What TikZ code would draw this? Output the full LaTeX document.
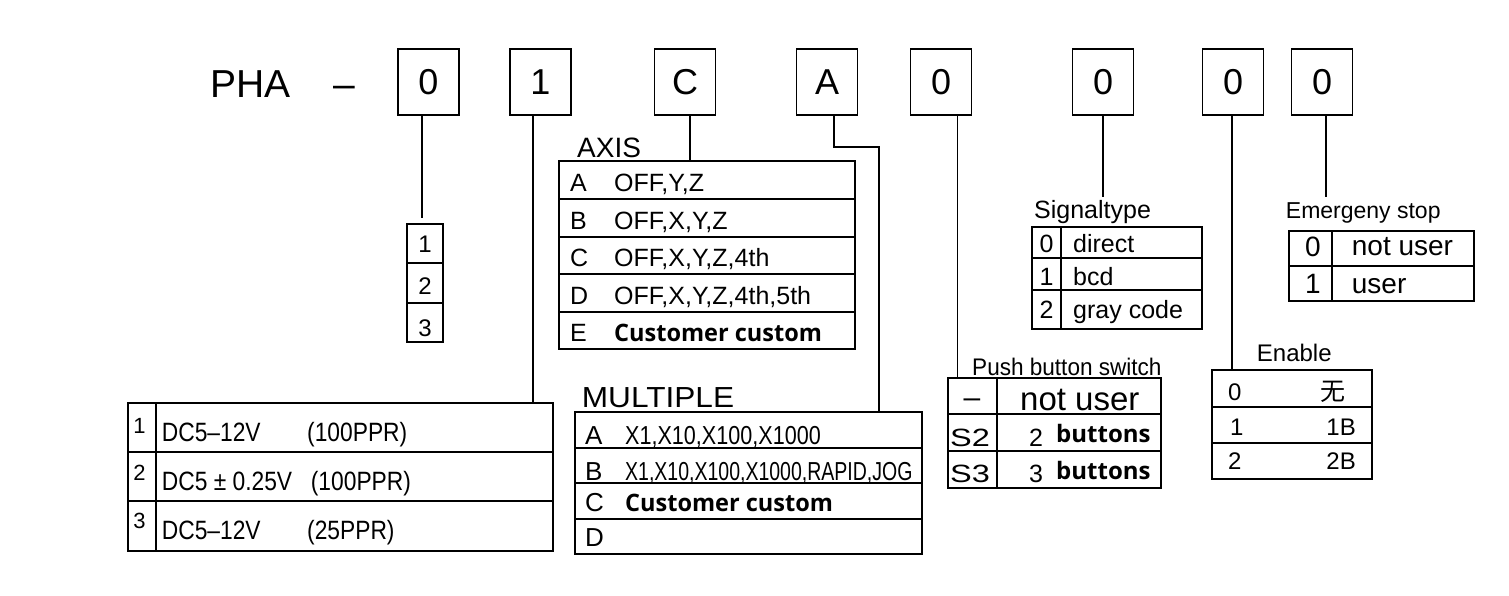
\documentclass[tikz,border=0pt]{standalone}
\usepackage{graphicx}
\usepackage{fontspec}
\setmainfont{Liberation Sans}
\newfontfamily\custbold{Open Sans}
\newfontfamily\cjk{Noto Sans CJK SC}
\newcommand\fsz[1]{\fontsize{#1}{#1}\selectfont}
\newcommand\sx[2]{\scalebox{#1}[1]{#2}}
\begin{document}
\begin{tikzpicture}[x=1pt,y=-1pt,
  frame/.style={draw,line width=1.6pt},
  wire/.style={line width=1.8pt},
  digitbox/.style={draw,line width=1.6pt,minimum width=61pt,minimum height=66pt,inner sep=0pt,font=\fsz{36}},
  lbl/.style={anchor=base west,inner sep=0pt},
  ctr/.style={anchor=base,inner sep=0pt},
  rgt/.style={anchor=base east,inner sep=0pt},
  bld/.style={font=\custbold\bfseries\fsz{24}}
]
\useasboundingbox (0,0) rectangle (1509,595);
\fill[white] (0,0) rectangle (1509,595);

% ---- title row ----
\node[lbl,font=\fsz{39}] (pha) at (210,97) {PHA};
\node[ctr,font=\fsz{39}] (dash) at (344,97) {–};
\node[digitbox] (b0) at (428.5,82) {0};
\node[digitbox] (b1) at (540.5,82) {1};
\node[digitbox] (b2) at (685,82) {C};
\node[digitbox] (b3) at (827,82) {A};
\node[digitbox] (b4) at (941,82) {0};
\node[digitbox] (b5) at (1103,82) {0};
\node[digitbox] (b6) at (1233,82) {0};
\node[digitbox] (b7) at (1322,82) {0};

% ---- wire end points ----
\coordinate (t0) at (422,218);
\coordinate (t1) at (533,403);
\coordinate (t2) at (690,161);
\coordinate (t3a) at (834,147);
\coordinate (t3) at (879,412);
\coordinate (t4) at (957.5,377.7);
\coordinate (t5) at (1103,197);
\coordinate (t6) at (1231.7,370);
\coordinate (t7) at (1326,197);

\draw[wire] (b0.south -| t0) -- (t0);
\draw[wire] (b1.south -| t1) -- (t1);
\draw[wire] (b2.south -| t2) -- (t2);
\draw[wire] (b3.south -| t3a) -- (t3a) -| (t3);
\draw[wire] (b4.south -| t4) -- (t4);
\draw[wire] (b5.south -| t5) -- (t5);
\draw[wire] (b6.south -| t6) -- (t6);
\draw[wire] (b7.south -| t7) -- (t7);

% ---- small table 1/2/3 ----
\draw[frame] (406.7,224) rectangle (443,341.7);
\draw[frame] (406.7,262.7) -- (443,262.7) (406.7,302.7) -- (443,302.7);
\node[ctr,font=\fsz{24}] at (425,252) {1};
\node[ctr,font=\fsz{24}] at (425,294) {2};
\node[ctr,font=\fsz{24}] at (425,336) {3};

% ---- voltage table ----
\draw[frame] (128,403) rectangle (552.7,551);
\draw[frame] (156,403) -- (156,551);
\draw[frame] (128,451.7) -- (552.7,451.7) (128,500.7) -- (552.7,500.7);
\node[ctr,font=\fsz{22}] at (139.5,433) {1};
\node[ctr,font=\fsz{22}] at (139.5,480) {2};
\node[ctr,font=\fsz{22}] at (139.5,528) {3};
\begin{scope}[every node/.style={lbl,font=\fsz{26.5}}]
\node at (161.7,441) {\sx{0.86}{DC5–12V}};
\node at (307,441) {\sx{0.86}{(100PPR)}};
\node at (161.7,490) {\sx{0.86}{DC5 ± 0.25V}};
\node at (310.7,490) {\sx{0.86}{(100PPR)}};
\node at (161.7,539) {\sx{0.86}{DC5–12V}};
\node at (307,539) {\sx{0.86}{(25PPR)}};
\end{scope}

% ---- AXIS table ----
\node[lbl,font=\fsz{28}] at (577,157) {AXIS};
\draw[frame] (559,161) rectangle (854.7,349);
\foreach \yy in {199,236.7,274,312} \draw[frame] (559,\yy) -- (854.7,\yy);
\begin{scope}[every node/.style={lbl,font=\fsz{25}}]
\node at (570,191) {A};   \node at (614,191) {OFF,Y,Z};
\node at (570,229) {B};   \node at (614,229) {OFF,X,Y,Z};
\node at (570,266) {C};   \node at (614,266) {OFF,X,Y,Z,4th};
\node at (570,304) {D};   \node at (614,304) {OFF,X,Y,Z,4th,5th};
\node at (570,341.7) {E};
\node[bld] at (614,341.7) {\sx{0.98}{Customer custom}};
\end{scope}

% ---- MULTIPLE table ----
\node[lbl,font=\fsz{29}] at (581.7,407) {\sx{1.09}{MULTIPLE}};
\draw[frame] (575,412) rectangle (922,553.7);
\foreach \yy in {447.7,483,519} \draw[frame] (575,\yy) -- (922,\yy);
\begin{scope}[every node/.style={lbl,font=\fsz{26}}]
\node at (585,444) {A};   \node at (625,444) {\sx{0.83}{X1,X10,X100,X1000}};
\node at (585,480) {B};   \node at (625,480) {\sx{0.75}{X1,X10,X100,X1000,RAPID,JOG}};
\node at (585,511.7) {C};
\node[bld] at (625,511.7) {\sx{0.98}{Customer custom}};
\node at (585,546.7) {D};
\end{scope}

% ---- Signaltype table ----
\node[lbl,font=\fsz{25}] at (1034,218) {Signaltype};
\draw[frame] (1032,226.7) rectangle (1201.7,329);
\draw[frame] (1061,226.7) -- (1061,329);
\draw[frame] (1032,258) -- (1201.7,258) (1032,290) -- (1201.7,290);
\begin{scope}[every node/.style={font=\fsz{25}}]
\node[ctr] at (1046.5,252) {0};  \node[lbl] at (1073,252) {direct};
\node[ctr] at (1046.5,285) {1};  \node[lbl] at (1073,285) {bcd};
\node[ctr] at (1046.5,318) {2};  \node[lbl] at (1073,318) {gray code};
\end{scope}

% ---- Push button switch table ----
\node[lbl,font=\fsz{24}] at (972,375) {\sx{0.94}{Push button switch}};
\draw[frame] (948,377.7) rectangle (1160.7,487.7);
\draw[frame] (996.7,377.7) -- (996.7,487.7);
\draw[frame] (948,414) -- (1160.7,414) (948,450.7) -- (1160.7,450.7);
\node[ctr,font=\fsz{30}] at (972,407) {–};
\node[lbl,font=\fsz{33}] at (1020,410) {not user};
\node[lbl,font=\fsz{25}] at (950,446) {\sx{1.3}{S2}};
\node[lbl,font=\fsz{25}] at (1029,446) {2};
\node[lbl,bld] at (1056,442) {buttons};
\node[lbl,font=\fsz{25}] at (950,482.7) {\sx{1.3}{S3}};
\node[lbl,font=\fsz{25}] at (1029,482.7) {3};
\node[lbl,bld] at (1056,479) {buttons};

% ---- Emergency stop table ----
\node[lbl,font=\fsz{23}] at (1285.7,218) {Emergeny stop};
\draw[frame] (1289,230.7) rectangle (1474,301);
\draw[frame] (1331.7,230.7) -- (1331.7,301);
\draw[frame] (1289,266) -- (1474,266);
\begin{scope}[every node/.style={font=\fsz{28}}]
\node[ctr] at (1313,256.7) {0};  \node[lbl] at (1351.7,255) {not user};
\node[ctr] at (1313,293) {1};    \node[lbl] at (1351.7,293) {user};
\end{scope}

% ---- Enable table ----
\node[lbl,font=\fsz{24}] at (1256.7,361) {Enable};
\draw[frame] (1212,370) rectangle (1372,479);
\draw[frame] (1212,406.7) -- (1372,406.7) (1212,443) -- (1372,443);
\begin{scope}[every node/.style={font=\fsz{24}}]
\node[lbl] at (1228,400) {0};  \node[lbl,font=\cjk\fsz{25}] at (1320.7,400) {无};
\node[lbl] at (1230,435) {1};  \node[rgt] at (1356,435) {1B};
\node[lbl] at (1228,469.3) {2};  \node[rgt] at (1356,469.3) {2B};
\end{scope}
\end{tikzpicture}
\end{document}
